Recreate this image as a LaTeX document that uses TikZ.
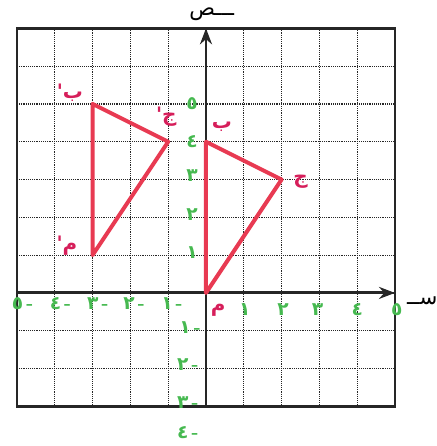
\documentclass[tikz,border=0pt]{standalone}
\usepackage{fontspec}
\newfontfamily\arabicfont[Script=Arabic]{DejaVu Sans}
\TeXXeTstate=1
\usetikzlibrary{arrows.meta}
\definecolor{tri}{RGB}{232,58,82}
\definecolor{lbl}{RGB}{214,30,90}
\definecolor{grn}{RGB}{70,185,80}
\newcommand\negsign{{\rmfamily\bfseries -}}
\tikzset{
  gridline/.style={line width=0.9pt, dash pattern=on 0.7pt off 0.7pt, black!85},
  border/.style={line width=1.8pt, black!85},
  axis/.style={line width=2.2pt, black!85, -{Stealth[length=12pt,width=9pt]}},
  triline/.style={line width=3pt, tri, line join=round, line cap=round},
  glab/.style={text=grn, font=\arabicfont\fontsize{14}{16}\selectfont\bfseries, inner sep=0pt},
  rlab/.style={text=lbl, font=\arabicfont\fontsize{15}{17}\selectfont\bfseries, inner sep=0pt},
  axlab/.style={text=black, font=\arabicfont\fontsize{16}{18}\selectfont, inner sep=0pt}
}
\begin{document}
\begin{tikzpicture}
\useasboundingbox (-5.45,-4.05) rectangle (6.11,7.75);
% grid
\foreach \x in {-4,...,4} \draw[gridline] (\x,-3) -- (\x,7);
\foreach \y in {-2,...,6} \draw[gridline] (-5,\y) -- (5,\y);
\draw[border] (-5,-3) rectangle (5,7);
% axes
\coordinate (xl) at (-5,0);
\coordinate (xr) at (5,0);
\coordinate (yb) at (0,-3);
\coordinate (yt) at (0,7);
\draw[axis] (xl) -- (xr);
\draw[axis] (yb) -- (yt);
\node[axlab] (sad) at (0.15,7.38) {\beginR ـــص\endR};
\node[axlab] (sin) at (5.72,-0.2) {\beginR ســ\endR};
% triangle vertices
\coordinate (M) at (0,0);
\coordinate (B) at (0,4);
\coordinate (J) at (2,3);
\coordinate (M1) at (-3,1);
\coordinate (B1) at (-3,5);
\coordinate (J1) at (-1,4);
\draw[triline] (M) -- (B) -- (J) -- cycle;
\draw[triline] (M1) -- (B1) -- (J1) -- cycle;
% vertex labels
\node[rlab] (lM) at (0.32,-0.45) {م};
\node[rlab] (lB) at (0.42,4.4) {ب};
\node[rlab] (lJ) at (2.5,2.95) {ج};
\node[rlab] (lM1) at (-3.68,1.25) {\beginR م'\endR};
\node[rlab] (lB1) at (-3.6,5.3) {\beginR ب'\endR};
\node[rlab] (lJ1) at (-1.05,4.65) {\beginR ج'\endR};
% x-axis numbers
\node[glab] (x1) at (1.03,-0.45) {١};
\node[glab] (x2) at (2.04,-0.45) {٢};
\node[glab] (x3) at (2.95,-0.45) {٣};
\node[glab] (x4) at (4.0,-0.45) {٤};
\node[glab] (x5) at (5.05,-0.45) {٥};
\node[glab] (xm1) at (-0.9,-0.27) {١\,\negsign};
\node[glab] (xm2) at (-1.9,-0.27) {٢\,\negsign};
\node[glab] (xm3) at (-2.86,-0.27) {٣\,\negsign};
\node[glab] (xm4) at (-3.85,-0.27) {٤\,\negsign};
\node[glab] (xm5) at (-4.85,-0.27) {٥\,\negsign};
% y-axis numbers
\node[glab] (y1) at (-0.37,1.06) {١};
\node[glab] (y2) at (-0.37,2.06) {٢};
\node[glab] (y3) at (-0.37,3.1) {٣};
\node[glab] (y4) at (-0.37,4.0) {٤};
\node[glab] (y5) at (-0.37,5.0) {٥};
\node[glab] (ym1) at (-0.42,-0.93) {١\,\negsign};
\node[glab] (ym2) at (-0.48,-1.9) {٢\,\negsign};
\node[glab] (ym3) at (-0.48,-2.9) {٣\,\negsign};
\node[glab] (ym4) at (-0.48,-3.7) {٤\,\negsign};
\end{tikzpicture}
\end{document}
